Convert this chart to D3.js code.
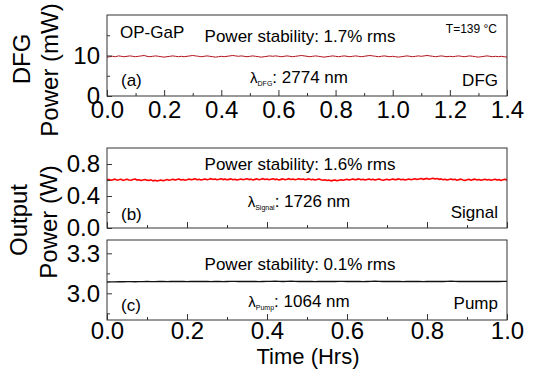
<!DOCTYPE html>
<html><head><meta charset="utf-8">
<script src="https://cdn.jsdelivr.net/npm/d3@7/dist/d3.min.js"></script>
<style>
body{margin:0;background:#fff;}
svg{display:block;font-family:"Liberation Sans",Arial,sans-serif;}
</style></head><body>
<svg id="c" width="533" height="379"></svg>
<script>
// ---- data ----
const dfgTimeStep = 0.01;   // hrs, sampling of panel (a)
const dfgPower = [
9.6,9.7,9.8,9.7,9.9,9.8,9.7,9.8,9.9,9.8,
9.7,9.8,9.9,10.0,9.8,9.7,9.8,9.9,9.8,9.7,
9.6,9.7,9.8,9.9,9.8,9.7,9.8,9.7,9.8,9.9,
10.0,9.9,9.8,9.7,9.8,9.9,9.8,9.7,9.6,9.7,
9.8,9.7,9.8,9.9,10.0,9.9,9.8,9.9,9.8,9.7,
9.8,9.9,9.8,9.7,9.6,9.7,9.8,9.9,9.8,9.9,
9.8,9.7,9.8,9.9,9.8,9.7,9.8,9.9,10.0,9.9,
9.8,9.7,9.8,9.9,9.8,9.7,9.6,9.7,9.8,9.9,
9.8,9.7,9.8,9.9,9.8,9.7,9.8,9.9,9.8,9.7,
9.8,9.9,10.0,9.9,9.8,9.7,9.8,9.9,9.8,9.7,
9.8,9.7,9.6,9.7,9.8,9.9,9.8,9.7,9.8,9.9,
9.8,9.9,10.0,9.9,9.8,9.7,9.8,9.9,9.8,9.7,
9.8,9.7,9.8,9.9,9.8,9.7,9.8,9.9,9.8,9.7,
9.6,9.7,9.8,9.9,9.8,9.7,9.8,9.7,9.8,9.7,9.6];

const sigTimeStep = 0.005;  // hrs, sampling of panel (b)
const signalPower = [
0.600,0.608,0.596,0.604,0.611,0.598,0.603,0.609,0.595,0.602,
0.610,0.601,0.597,0.606,0.612,0.599,0.604,0.593,0.601,0.607,
0.598,0.594,0.602,0.589,0.596,0.587,0.594,0.600,0.591,0.598,
0.605,0.597,0.603,0.610,0.599,0.606,0.612,0.601,0.607,0.598,
0.604,0.611,0.602,0.608,0.615,0.603,0.609,0.600,0.607,0.613,
0.604,0.610,0.617,0.606,0.612,0.603,0.609,0.616,0.605,0.611,
0.602,0.608,0.614,0.604,0.610,0.599,0.606,0.613,0.603,0.609,
0.615,0.605,0.611,0.601,0.608,0.614,0.604,0.610,0.617,0.606,
0.612,0.603,0.609,0.615,0.605,0.611,0.601,0.608,0.614,0.604,
0.610,0.617,0.607,0.613,0.603,0.609,0.616,0.606,0.612,0.602,
0.608,0.614,0.604,0.610,0.600,0.607,0.613,0.603,0.598,0.604,
0.594,0.600,0.589,0.595,0.601,0.591,0.598,0.604,0.596,0.603,
0.609,0.599,0.606,0.612,0.602,0.608,0.614,0.604,0.610,0.601,
0.607,0.613,0.603,0.609,0.599,0.606,0.612,0.602,0.596,0.603,
0.609,0.600,0.606,0.612,0.602,0.608,0.614,0.604,0.610,0.600,
0.607,0.613,0.604,0.610,0.616,0.606,0.612,0.618,0.608,0.614,
0.620,0.610,0.616,0.622,0.612,0.618,0.608,0.614,0.604,0.610,
0.600,0.607,0.613,0.603,0.609,0.598,0.605,0.611,0.601,0.595,
0.602,0.608,0.598,0.605,0.611,0.601,0.607,0.597,0.604,0.610,
0.600,0.606,0.596,0.603,0.609,0.599,0.605,0.595,0.602,0.608,
0.598];

const pumpTimeStep = 0.01;  // hrs, sampling of panel (c)
const pumpPower = [
3.085,3.086,3.086,3.087,3.087,3.088,3.088,3.087,3.088,3.088,
3.089,3.088,3.088,3.089,3.089,3.088,3.089,3.090,3.089,3.089,
3.088,3.089,3.089,3.090,3.089,3.089,3.088,3.089,3.089,3.088,
3.089,3.090,3.090,3.089,3.089,3.090,3.089,3.089,3.088,3.089,
3.090,3.090,3.091,3.090,3.089,3.090,3.091,3.090,3.089,3.089,
3.090,3.089,3.088,3.089,3.089,3.090,3.089,3.089,3.090,3.090,
3.089,3.089,3.090,3.089,3.088,3.089,3.090,3.091,3.090,3.089,
3.089,3.090,3.089,3.089,3.088,3.089,3.089,3.090,3.089,3.088,
3.089,3.089,3.090,3.089,3.089,3.090,3.091,3.090,3.089,3.089,
3.090,3.089,3.089,3.090,3.089,3.089,3.090,3.089,3.089,3.090,3.090];

const xTicksDFG = [0.0,0.2,0.4,0.6,0.8,1.0,1.2,1.4];
const xMinorDFG = [0.1,0.3,0.5,0.7,0.9,1.1,1.3];
const xTicksOut = [0.0,0.2,0.4,0.6,0.8,1.0];
const xMinorOut = [0.1,0.3,0.5,0.7,0.9];
const yTicksDFG = [0,10];   const yMinorDFG = [5,15];
const yTicksSig = [0.0,0.4,0.8]; const yMinorSig = [0.2,0.6];
const yTicksPump = [3.0,3.3]; const yMinorPump = [2.85,3.15];

const stabilityLabels = ["Power stability: 1.7% rms","Power stability: 1.6% rms","Power stability: 0.1% rms"];
const panelTags = ["(a)","(b)","(c)"];
const beamNames = ["DFG","Signal","Pump"];
const wavelengthSubs = ["DFG","Signal","Pump"];
const wavelengthVals = [": 2774 nm",": 1726 nm",": 1064 nm"];

// ---- layout ----
const svg = d3.select("#c");
const L = 107, R = 507;
const panels = [
  {top:15, bottom:96, xMax:1.4, xt:xTicksDFG, xm:xMinorDFG, yd:[0,20], yt:yTicksDFG, ym:yMinorDFG,
   data:dfgPower, step:dfgTimeStep, color:"#b3121c", width:1, fmt:d3.format("d"), xLabels:true, xPad:5,
   stabY:42, lamY:83, tagY:86, nameY:86},
  {top:148, bottom:228, xMax:1.0, xt:xTicksOut, xm:xMinorOut, yd:[0,1.0], yt:yTicksSig, ym:yMinorSig,
   data:signalPower, step:sigTimeStep, color:"#ff0000", width:1.6, fmt:d3.format(".1f"), xLabels:false, xPad:5,
   stabY:170, lamY:207, tagY:220, nameY:218},
  {top:240, bottom:320, xMax:1.0, xt:xTicksOut, xm:xMinorOut, yd:[2.8,3.4], yt:yTicksPump, ym:yMinorPump,
   data:pumpPower, step:pumpTimeStep, color:"#111", width:1.4, fmt:d3.format(".1f"), xLabels:true, xPad:2,
   stabY:270, lamY:307, tagY:311, nameY:309}
];

panels.forEach((p,i)=>{
  const x = d3.scaleLinear().domain([0,p.xMax]).range([L,R]);
  const y = d3.scaleLinear().domain(p.yd).range([p.bottom,p.top]);
  const g = svg.append("g");

  const line = d3.line().x((d,k)=>x(k*p.step)).y(d=>y(d));
  g.append("path").datum(p.data).attr("d",line)
   .attr("fill","none").attr("stroke",p.color).attr("stroke-width",p.width)
   .attr("stroke-linejoin","round");

  const xa = g.append("g").attr("transform",`translate(0,${p.bottom})`)
    .call(d3.axisBottom(x).tickValues(p.xt).tickSizeInner(-6).tickSizeOuter(0).tickPadding(p.xPad)
      .tickFormat(p.xLabels ? d3.format(".1f") : ""));
  const xm = g.append("g").attr("transform",`translate(0,${p.bottom})`)
    .call(d3.axisBottom(x).tickValues(p.xm).tickSizeInner(-3).tickSizeOuter(0).tickFormat(""));
  const ya = g.append("g").attr("transform",`translate(${L},0)`)
    .call(d3.axisLeft(y).tickValues(p.yt).tickSizeInner(-5).tickSizeOuter(0).tickPadding(7).tickFormat(p.fmt));
  const ymn = g.append("g").attr("transform",`translate(${L},0)`)
    .call(d3.axisLeft(y).tickValues(p.ym).tickSizeInner(-3).tickSizeOuter(0).tickFormat(""));
  [xa,xm,ya,ymn].forEach(a=>{
    a.select(".domain").remove();
    a.selectAll("line").attr("stroke","#333");
    a.selectAll("text").attr("font-size",24).attr("fill","#000")
      .attr("font-family","'Liberation Sans',Arial,sans-serif");
  });

  g.append("rect").attr("x",L).attr("y",p.top).attr("width",R-L).attr("height",p.bottom-p.top)
   .attr("fill","none").attr("stroke","#333").attr("stroke-width",1);

  g.append("text").attr("x",300).attr("y",p.stabY).attr("text-anchor","middle")
   .attr("font-size",17).text(stabilityLabels[i]);
  g.append("text").attr("x",121).attr("y",p.tagY).attr("font-size",17).text(panelTags[i]);
  g.append("text").attr("x",498).attr("y",p.nameY).attr("text-anchor","end")
   .attr("font-size",17).text(beamNames[i]);
  const lt = g.append("text").attr("x",299).attr("y",p.lamY).attr("text-anchor","middle").attr("font-size",17);
  lt.append("tspan").attr("font-size",15).text("λ");
  lt.append("tspan").attr("font-size",7).attr("dy",3).text(wavelengthSubs[i]);
  lt.append("tspan").attr("dy",-3).text(wavelengthVals[i]);
});

svg.append("text").attr("x",120).attr("y",38).attr("font-size",17).text("OP-GaP");
svg.append("text").attr("x",497).attr("y",33).attr("text-anchor","end").attr("font-size",12).text("T=139 °C");

function vtitle(x,y,t){
  svg.append("text").attr("transform",`translate(${x},${y}) rotate(-90)`)
    .attr("text-anchor","middle").attr("dy","0.35em").attr("font-size",24).text(t);
}
vtitle(22,59,"DFG");
vtitle(50,70,"Power (mW)");
vtitle(19,220,"Output");
vtitle(49,222,"Power (W)");
svg.append("text").attr("x",308).attr("y",364).attr("text-anchor","middle").attr("font-size",22).text("Time (Hrs)");
</script>
</body></html>
